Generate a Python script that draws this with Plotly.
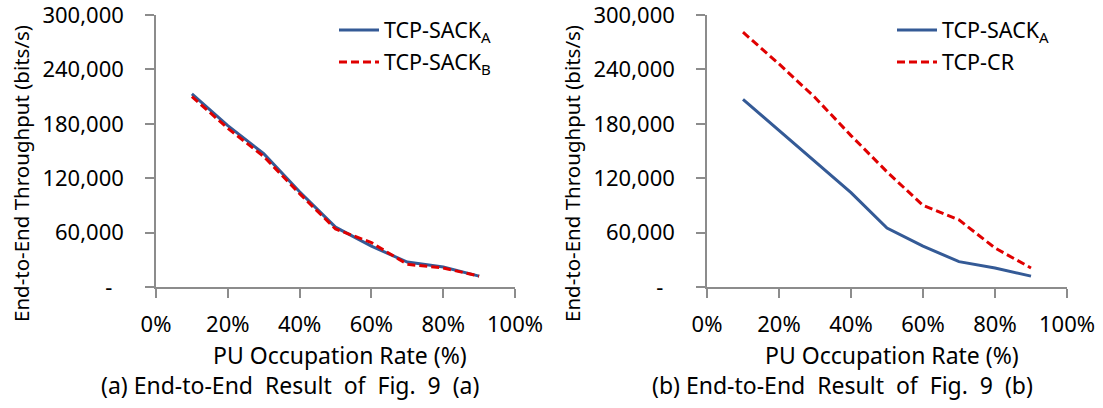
import plotly.graph_objects as go

occupation = [10, 20, 30, 40, 50, 60, 70, 80, 90]
sack_a_left = [213000, 178000, 147000, 105000, 66000, 45000, 27500, 22000, 12000]
sack_b_left = [210000, 175000, 144000, 103000, 64000, 49000, 25000, 21000, 12000]
sack_a_right = [207000, 173000, 139000, 104000, 65000, 45000, 28000, 21000, 12000]
tcp_cr_right = [281000, 246000, 209000, 167000, 127000, 90000, 74000, 43000, 21000]

x_tickvals = [0, 20, 40, 60, 80, 100]
x_ticktext = ["0%", "20%", "40%", "60%", "80%", "100%"]
y_tickvals = [0, 60000, 120000, 180000, 240000, 300000]
y_ticktext = ["-  ", "60,000", "120,000", "180,000", "240,000", "300,000"]

FONT = "Noto Sans"
BLUE = "#345A96"
RED = "#E00000"
W, H = 1103, 408

fig = go.Figure()
fig.add_trace(go.Scatter(x=occupation, y=sack_a_left, mode="lines", name="TCP-SACK<sub>A</sub>",
                         line=dict(color=BLUE, width=3), xaxis="x", yaxis="y", legend="legend"))
fig.add_trace(go.Scatter(x=occupation, y=sack_b_left, mode="lines", name="TCP-SACK<sub>B</sub>",
                         line=dict(color=RED, width=3, dash="8px,4px"), xaxis="x", yaxis="y", legend="legend2"))
fig.add_trace(go.Scatter(x=occupation, y=sack_a_right, mode="lines", name="TCP-SACK<sub>A</sub>",
                         line=dict(color=BLUE, width=3), xaxis="x2", yaxis="y2", legend="legend3"))
fig.add_trace(go.Scatter(x=occupation, y=tcp_cr_right, mode="lines", name="TCP-CR",
                         line=dict(color=RED, width=3, dash="8px,4px"), xaxis="x2", yaxis="y2", legend="legend4"))

ydom = [(H - 287) / H, (H - 15) / H]
xdom1 = [156 / W, 515 / W]
xdom2 = [707 / W, 1067 / W]

axis_common = dict(showgrid=False, zeroline=False, showline=True, linecolor="#8c8c8c", linewidth=1.5,
                   ticks="outside", tickcolor="#8c8c8c", tickwidth=1.5, automargin=False,
                   ticklabeloverflow="allow", ticklen=9,
                   tickfont=dict(family=FONT, size=22, color="#000"))

xcommon = dict(axis_common, range=[0, 100], tickvals=x_tickvals, ticktext=x_ticktext,
               ticklabelstandoff=8)
ycommon = dict(axis_common, range=[0, 300000], tickvals=y_tickvals, ticktext=y_ticktext,
               ticklabelstandoff=17)

legend_common = dict(font=dict(family=FONT, size=21.5, color="#000"), bgcolor="rgba(0,0,0,0)",
                     xanchor="left", yanchor="middle", itemwidth=40)

fig.update_layout(
    width=W, height=H, margin=dict(l=0, r=0, t=0, b=0, autoexpand=False),
    paper_bgcolor="white", plot_bgcolor="white",
    xaxis=dict(xcommon, domain=xdom1, anchor="y"),
    yaxis=dict(ycommon, domain=ydom, anchor="x"),
    xaxis2=dict(xcommon, domain=xdom2, anchor="y2"),
    yaxis2=dict(ycommon, domain=ydom, anchor="x2"),
    legend=dict(legend_common, x=334 / W, y=1 - 30 / H),
    legend2=dict(legend_common, x=334 / W, y=1 - 62 / H),
    legend3=dict(legend_common, x=892 / W, y=1 - 30 / H),
    legend4=dict(legend_common, x=892 / W, y=1 - 62 / H),
    showlegend=True,
)

nb = "\u00a0"
annotations = [
    dict(text="End-to-End Throughput (bits/s)", x=21 / W, y=1 - 174 / H, textangle=-90, size=20.5),
    dict(text="End-to-End Throughput (bits/s)", x=(551 + 21) / W, y=1 - 174 / H, textangle=-90, size=20.5),
    dict(text="PU Occupation Rate (%)", x=340 / W, y=1 - 355 / H, size=23),
    dict(text="PU Occupation Rate (%)", x=892 / W, y=1 - 355 / H, size=23),
    dict(text=f"(a) End-to-End{nb} Result{nb} of{nb} Fig.{nb} 9{nb} (a)",
         x=290 / W, y=1 - 385 / H, size=23),
    dict(text=f"(b) End-to-End{nb} Result{nb} of{nb} Fig.{nb} 9{nb} (b)",
         x=842 / W, y=1 - 385 / H, size=23),
]
for a in annotations:
    size = a.pop("size")
    fig.add_annotation(xref="paper", yref="paper", showarrow=False,
                       font=dict(family=FONT, size=size, color="#000"),
                       xanchor="center", yanchor="middle", **a)

fig.write_html("out.html")
